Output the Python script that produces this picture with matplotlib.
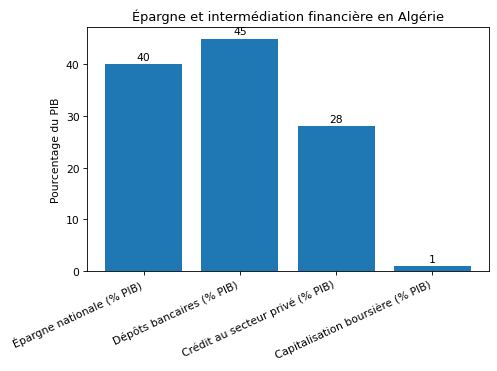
import matplotlib
matplotlib.use('Agg')
import matplotlib.pyplot as plt

categories = ['Épargne nationale (% PIB)', 'Dépôts bancaires (% PIB)',
              'Crédit au secteur privé (% PIB)', 'Capitalisation boursière (% PIB)']
values = [40, 45, 28, 1]

dpi = 497 / 6.4
fig = plt.figure(figsize=(6.4, 372 / dpi), dpi=dpi)
ax = fig.add_axes([0.175, 0.269, 0.809, 0.656])
bars = ax.bar(categories, values, color='#1f77b4')
ax.bar_label(bars, labels=[str(v) for v in values], padding=2)
ax.set_title('Épargne et intermédiation financière en Algérie')
ax.set_ylabel('Pourcentage du PIB')
plt.setp(ax.get_xticklabels(), rotation=25, ha='right')
fig.savefig('out.png', dpi=dpi)
